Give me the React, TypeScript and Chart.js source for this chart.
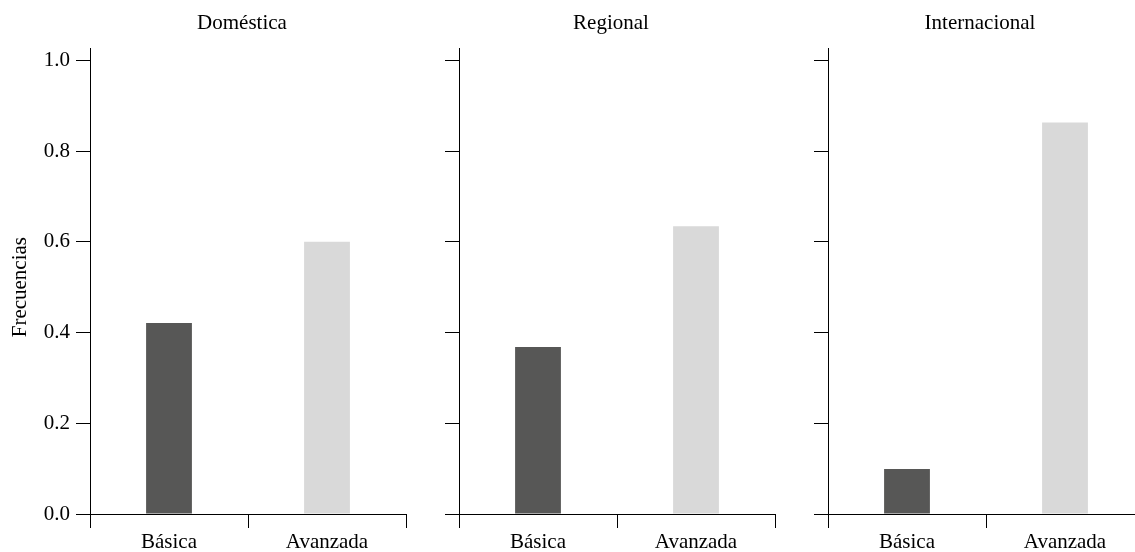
import React, { useEffect, useRef } from "react";
import { Chart, registerables } from "chart.js";

Chart.register(...registerables);

const categories = ["Básica", "Avanzada"];
const panelTitles = ["Doméstica", "Regional", "Internacional"];
const basicaValues = [0.421, 0.368, 0.099];
const avanzadaValues = [0.6, 0.634, 0.863];
const yTickValues = [0, 0.2, 0.4, 0.6, 0.8, 1.0];
const yAxisTitle = "Frecuencias";
const barColors = ["#575756", "#d9d9d9"];

const FONT = '"Liberation Serif", "Times New Roman", serif';

function Panel({ index }: { index: number }) {
  const ref = useRef<HTMLCanvasElement | null>(null);
  useEffect(() => {
    if (!ref.current) return;
    const showLabels = index === 0;
    const titlePlugin = {
      id: "panelTitle",
      afterDraw(chart: any) {
        const { ctx, chartArea } = chart;
        ctx.save();
        ctx.fillStyle = "#000";
        ctx.font = `21px ${FONT}`;
        ctx.textAlign = "center";
        ctx.textBaseline = "middle";
        ctx.fillText(panelTitles[index], (chartArea.left + chartArea.right) / 2 - 6, 23);
        if (showLabels) {
          const y = chart.scales.y.getPixelForValue(0.5);
          ctx.translate(20, y);
          ctx.rotate(-Math.PI / 2);
          ctx.fillText(yAxisTitle, 0, 0);
        }
        ctx.restore();
      },
    };
    const chart = new Chart(ref.current, {
      type: "bar",
      data: {
        labels: categories,
        datasets: [
          {
            data: [basicaValues[index], avanzadaValues[index]],
            backgroundColor: barColors,
            borderWidth: 0,
            categoryPercentage: 1,
            barPercentage: 0.29,
          },
        ],
      },
      options: {
        responsive: false,
        animation: false,
        devicePixelRatio: 1,
        layout: { padding: { top: 48, right: 14, bottom: 0, left: 0 } },
        plugins: { legend: { display: false }, tooltip: { enabled: false }, title: { display: false } },
        scales: {
          x: {
            type: "category",
            offset: true,
            grid: {
              offset: true,
              drawOnChartArea: false,
              drawTicks: true,
              tickLength: 14,
              color: "#000",
              lineWidth: 1,
            },
            border: { display: true, color: "#000", width: 1 },
            ticks: { color: "#000", font: { family: FONT, size: 21 }, padding: 2, maxRotation: 0 },
            afterFit: (s: any) => {
              s.height = 38;
            },
          },
          y: {
            type: "linear",
            min: 0,
            max: 1.027,
            grid: {
              drawOnChartArea: false,
              drawTicks: true,
              tickLength: 14,
              color: "#000",
              lineWidth: 1,
            },
            border: { display: true, color: "#000", width: 1 },
            ticks: {
              color: "#000",
              font: { family: FONT, size: 21 },
              padding: 6,
              callback: (v: any) => (showLabels ? Number(v).toFixed(1) : ""),
            },
            afterBuildTicks: (s: any) => {
              s.ticks = yTickValues.map((v) => ({ value: v }));
            },
            afterFit: (s: any) => {
              s.width = 90;
            },
          },
        },
      },
      plugins: [titlePlugin],
    } as any);
    return () => chart.destroy();
  }, [index]);
  return (
    <canvas
      ref={ref}
      width={420}
      height={552}
      style={{ position: "absolute", left: index * 369, top: 0, width: 420, height: 552 }}
    />
  );
}

export default function App() {
  return (
    <div
      style={{
        position: "fixed",
        left: 0,
        top: 0,
        width: 1135,
        height: 552,
        overflow: "hidden",
        background: "#fff",
      }}
    >
      {panelTitles.map((_, i) => (
        <Panel key={i} index={i} />
      ))}
    </div>
  );
}
